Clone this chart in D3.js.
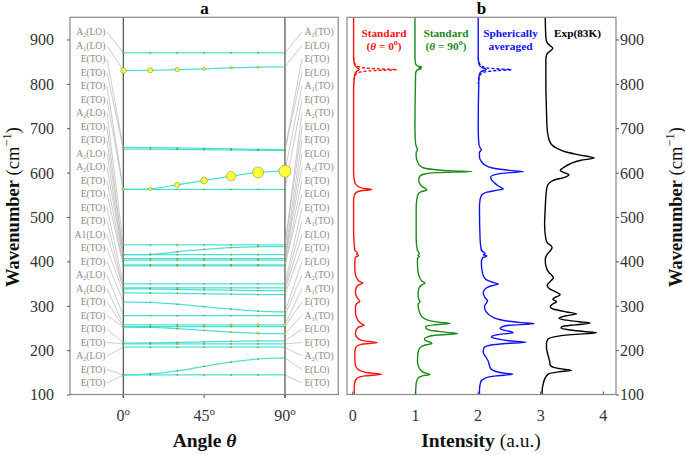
<!DOCTYPE html>
<html><head><meta charset="utf-8">
<script src="https://cdn.jsdelivr.net/npm/d3@7"></script>
<style>
body{margin:0;background:#fff}
svg{display:block}
</style>
</head><body>
<svg id="c" width="685" height="455"></svg>
<script>
// ---------- data ----------
const wavenumberTicks = [100,200,300,400,500,600,700,800,900];
const angleTicks = [0,45,90];
const intensityTicks = [0,1,2,3,4];
const angles = [0,15,30,45,60,75,90];

// frequency (cm-1) of each mode at 0,15,30,45,60,75,90 degrees
const modeFreqs = [
  [870,870,870,870,870,870,870],
  [830,830.5,832,834,836.2,837.6,838.5],
  [657,656.5,655.5,654.5,653.5,652.5,652],
  [653,652.8,652.3,651.6,651,650.3,650],
  [562,563.5,572.5,582.3,592,600.3,603.2],
  [562,562,562,562,562,562,562],
  [437,437,437,437,437,437,437],
  [415,416,421.5,427,431,433,433.5],
  [415,415,415,415,415,415,415],
  [406,406,406,406,406,406,406],
  [403,403,403,403,403,403,403],
  [392,392,392,392,392,392,392],
  [390,390,390,390,390,390,390],
  [349.5,349.5,349.5,349.5,349.5,349.5,349.5],
  [340,340,340,340,340,340,340],
  [338,337.8,337,336,335,334.3,334],
  [329,328.7,328,327,326,325.3,325],
  [309,307.5,303.5,298,292.5,288,286],
  [278,278,278,278,278,278,278],
  [257,257,257,257,257,257,257],
  [253,253,253,253,253,253,253],
  [252,251,248.5,244.5,240.5,238,237],
  [216,216.3,217.3,218.5,219.7,220.6,221],
  [214,214,214,214,214,214,214],
  [206.6,206.6,206.6,206.6,206.6,206.6,206.6],
  [144,146.5,153.5,163.5,173,180,182.6],
  [144,144,144,144,144,144,144]
];
// IR intensity (arb.) at each angle, for the active modes (index -> values)
const modeIntensityIdx = [1, 4, 19, 21];
const modeIntensity = [
  [7.3,6.3,4.8,2.6,1.4,1.0,0.6],
  [1.0,2.9,6.3,11,22,30,36],
  [0.3,0.3,0.4,0.64,1.0,1.7,1.7],
  [0.2,0.2,0.3,0.5,0.7,1.0,1.0]
];
const baseIntensity = 0.3;

const leftLabels = ["A_2(LO)","A_1(LO)","E(TO)","E(TO)","E(TO)","E(TO)","A_2(LO)","E(TO)","E(TO)","A_1(LO)","A_2(LO)","E(TO)","E(TO)","E(TO)","E(TO)","A1(LO)","E(TO)","E(TO)","A_2(LO)","A_1(LO)","E(TO)","E(TO)","E(TO)","E(TO)","A_2(LO)","E(TO)","E(TO)"];
const rightLabels = ["A_2(TO)","E(LO)","E(TO)","E(LO)","A_1(TO)","E(TO)","A_2(TO)","E(LO)","E(TO)","E(LO)","A_2(TO)","E(TO)","E(LO)","E(TO)","A_1(TO)","E(LO)","E(TO)","E(LO)","A_2(TO)","A_1(TO)","E(TO)","A_1(TO)","E(LO)","E(TO)","A_2(TO)","E(LO)","E(TO)"];

// spectra: [wavenumber, intensity]
const std0 = [[950,0.02],[860,0.02],[846,0.03],[840,0.05],[836,0.08],[833,0.11],[830,0.09],[827,0.06],[822,0.04],[812,0.03],[780,0.02],[600,0.02],[585,0.03],[575,0.05],[569,0.09],[565,0.16],[562,0.31],[559,0.14],[555,0.06],[548,0.03],[535,0.02],[470,0.02],[440,0.03],[425,0.04],[419,0.08],[416,0.07],[413,0.1],[409,0.05],[400,0.04],[385,0.04],[370,0.05],[360,0.08],[355,0.11],[351,0.17],[347,0.1],[340,0.06],[330,0.05],[320,0.07],[314,0.1],[310,0.12],[305,0.07],[297,0.05],[285,0.05],[273,0.07],[265,0.1],[260,0.14],[256,0.19],[252,0.1],[245,0.06],[237,0.05],[228,0.08],[222,0.15],[217,0.4],[213,0.14],[207,0.06],[197,0.04],[180,0.04],[166,0.05],[158,0.08],[152,0.16],[149,0.25],[145.5,0.47],[142,0.2],[137,0.08],[128,0.04],[112,0.03],[100,0.03]];
const std0Dashed = [[860,0.02],[846,0.04],[840,0.08],[836,0.2],[834,0.4],[832,0.71],[830,0.35],[827,0.14],[822,0.06],[812,0.03],[800,0.02]];
const std90 = [[950,1.0],[860,1.0],[845,1.01],[840,1.05],[838,1.11],[836,1.06],[834,1.1],[831,1.03],[822,1.01],[700,1.0],[665,1.01],[656,1.03],[651,1.04],[646,1.02],[635,1.02],[625,1.04],[617,1.07],[611,1.13],[607,1.3],[604,1.6],[602.5,1.91],[600,1.35],[597,1.15],[592,1.08],[583,1.06],[574,1.08],[568,1.12],[564,1.17],[561,1.19],[557,1.1],[551,1.05],[540,1.03],[520,1.02],[450,1.02],[425,1.04],[417,1.07],[414,1.05],[411,1.07],[407,1.04],[395,1.04],[375,1.05],[362,1.08],[356,1.11],[351,1.16],[346,1.1],[338,1.06],[325,1.05],[315,1.06],[309,1.08],[303,1.05],[292,1.06],[280,1.09],[272,1.14],[266,1.25],[263,1.38],[260,1.56],[257,1.3],[254,1.18],[251,1.17],[247,1.2],[243,1.32],[240,1.5],[237,1.68],[234,1.35],[230,1.2],[225,1.15],[221,1.18],[218,1.24],[215,1.27],[211,1.15],[205,1.08],[195,1.05],[175,1.04],[162,1.06],[155,1.09],[150,1.14],[147,1.2],[145,1.24],[142,1.12],[137,1.05],[125,1.02],[100,1.01]];
const sphAvg = [[950,2.01],[860,2.01],[846,2.02],[840,2.04],[836,2.08],[833,2.14],[831,2.12],[828,2.06],[822,2.03],[810,2.02],[700,2.01],[665,2.02],[656,2.04],[651,2.06],[646,2.03],[635,2.03],[625,2.06],[617,2.12],[611,2.22],[607,2.4],[604,2.6],[602.5,2.73],[600,2.5],[596,2.3],[590,2.21],[584,2.22],[577,2.27],[571,2.32],[566,2.38],[563,2.41],[560,2.3],[556,2.15],[550,2.07],[540,2.04],[520,2.03],[450,2.04],[425,2.06],[418,2.12],[415,2.09],[412,2.15],[408,2.08],[398,2.06],[380,2.07],[365,2.1],[357,2.16],[352,2.26],[349,2.33],[345,2.22],[338,2.12],[328,2.09],[318,2.12],[311,2.16],[306,2.14],[298,2.11],[288,2.13],[278,2.2],[270,2.32],[265,2.5],[262,2.7],[259.5,2.9],[256,2.5],[252,2.38],[249,2.36],[245,2.42],[242,2.52],[239,2.57],[236,2.38],[232,2.24],[229,2.22],[225,2.33],[221,2.5],[218,2.77],[215,2.45],[211,2.2],[205,2.1],[195,2.09],[185,2.13],[175,2.17],[165,2.19],[158,2.21],[153,2.27],[149,2.38],[145.5,2.56],[142,2.3],[137,2.12],[128,2.05],[110,2.03],[100,2.03]];
const sphAvgDashed = [[860,2.01],[846,2.03],[840,2.07],[836,2.15],[834,2.3],[832,2.54],[830,2.3],[827,2.12],[822,2.05],[812,2.02],[800,2.01]];
const expt = [[950,3.08],[905,3.09],[893,3.11],[886,3.16],[880,3.2],[875,3.17],[868,3.11],[855,3.09],[800,3.09],[740,3.1],[700,3.11],[680,3.13],[665,3.17],[655,3.26],[647,3.4],[640,3.62],[633,3.86],[628,3.65],[620,3.48],[612,3.38],[605,3.32],[600,3.38],[595,3.46],[590,3.4],[582,3.2],[572,3.12],[560,3.1],[520,3.08],[483,3.07],[450,3.09],[441,3.12],[436,3.17],[431,3.19],[424,3.16],[416,3.11],[404,3.08],[390,3.09],[375,3.14],[368,3.19],[363,3.21],[356,3.17],[346,3.11],[338,3.15],[331,3.25],[325,3.32],[319,3.24],[315,3.2],[309,3.26],[304,3.2],[298,3.16],[291,3.25],[286,3.42],[282,3.58],[277,3.4],[272,3.3],[267,3.45],[264,3.62],[261,3.8],[257,3.55],[253,3.35],[250,3.33],[246,3.45],[242,3.7],[239,3.9],[235,3.5],[230,3.22],[224,3.12],[215,3.1],[205,3.1],[197,3.11],[186,3.13],[175,3.15],[166,3.16],[160,3.25],[157,3.38],[154.5,3.5],[151,3.3],[147,3.14],[140,3.09],[125,3.05],[107,3.03],[100,3.03]];

const seriesNames = ["Standard", "Standard", "Spherically", "Exp(83K)"];
const seriesSub = ["0", "90", "averaged", null];

// ---------- drawing ----------
const FONT = '"Liberation Serif","Times New Roman",serif';
const svg = d3.select("#c");
svg.append("rect").attr("width",685).attr("height",455).attr("fill","#fff");

const y = d3.scaleLinear().domain([100,950]).range([394.5,17.3]);
const xa = d3.scaleLinear().domain([-29.7,119.7]).range([70,338.3]);
const xb = d3.scaleLinear().domain([-0.085,4.21]).range([347,616]);
const rS = d3.scaleSqrt().domain([0,36]).range([0,6]);

// ----- panel a -----
const gA = svg.append("g");
const axL = svg.append("g").attr("transform","translate(70,0)")
  .call(d3.axisLeft(y).tickValues(wavenumberTicks).tickSize(3).tickPadding(13));
axL.select(".domain").remove();
axL.attr("font-family",FONT).attr("font-size",16);
axL.selectAll("text").attr("fill","#333").attr("dy","0.34em");
axL.selectAll("line").attr("stroke","#555");

gA.selectAll("line.v").data([0,90]).join("line")
  .attr("x1",d=>xa(d)).attr("x2",d=>xa(d)).attr("y1",17.3).attr("y2",398)
  .attr("stroke","#4d4d4d").attr("stroke-width",1.2);

const modeLine = d3.line().x((d,i)=>xa(angles[i])).y(d=>y(d)).curve(d3.curveMonotoneX);
gA.selectAll("path.mode").data(modeFreqs).join("path")
  .attr("d",modeLine).attr("fill","none").attr("stroke","#3fe0d0").attr("stroke-width",1.25).attr("opacity",0.95);

const f0 = modeFreqs.map(m=>m[0]).sort((a,b)=>b-a);
const f90 = modeFreqs.map(m=>m[6]).sort((a,b)=>b-a);
const ly = d3.scalePoint().domain(d3.range(leftLabels.length)).range([32,383]);

gA.selectAll("line.cl").data(leftLabels).join("line")
  .attr("x1",107).attr("y1",(d,i)=>ly(i)).attr("x2",xa(0)).attr("y2",(d,i)=>y(f0[i]))
  .attr("stroke","#a8a8a8").attr("stroke-width",0.6);
gA.selectAll("line.cr").data(rightLabels).join("line")
  .attr("x1",302).attr("y1",(d,i)=>ly(i)).attr("x2",xa(90)).attr("y2",(d,i)=>y(f90[i]))
  .attr("stroke","#a8a8a8").attr("stroke-width",0.6);

function fillLabel(sel, str){
  const m = str.match(/^(.)_(\d)(.*)$/);
  if(m){
    sel.append("tspan").text(m[1]);
    sel.append("tspan").attr("font-size","6.5px").attr("dy","1.8").text(m[2]);
    sel.append("tspan").attr("dy","-1.8").text(m[3]);
  } else sel.text(str);
}
gA.selectAll("text.ll").data(leftLabels).join("text")
  .attr("x",105.5).attr("y",(d,i)=>ly(i)+3.2).attr("text-anchor","end")
  .attr("font-family",FONT).attr("font-size","9.6px").attr("fill","#8a8a8a")
  .each(function(d){fillLabel(d3.select(this),d);});
gA.selectAll("text.rl").data(rightLabels).join("text")
  .attr("x",304.5).attr("y",(d,i)=>ly(i)+3.2).attr("text-anchor","start")
  .attr("font-family",FONT).attr("font-size","9.6px").attr("fill","#8a8a8a")
  .each(function(d){fillLabel(d3.select(this),d);});

const circ = [];
modeFreqs.forEach((m,k)=>{
  const j = modeIntensityIdx.indexOf(k);
  m.forEach((f,i)=>circ.push({a:angles[i], f, v: j>=0 ? modeIntensity[j][i] : baseIntensity}));
});
circ.sort((a,b)=>a.v-b.v);
gA.selectAll("circle").data(circ).join("circle")
  .attr("cx",d=>xa(d.a)).attr("cy",d=>y(d.f)).attr("r",d=>rS(d.v))
  .attr("fill",d=>d.v<0.5?"#9a9a40":"#ffff3a").attr("stroke","#7a7a20").attr("stroke-width",0.5);

gA.selectAll("line.at").data(angleTicks).join("line")
  .attr("x1",d=>xa(d)).attr("x2",d=>xa(d)).attr("y1",394.5).attr("y2",398).attr("stroke","#555");
const at = gA.selectAll("text.at").data(angleTicks).join("text")
  .attr("x",d=>xa(d)).attr("y",421).attr("text-anchor","middle")
  .attr("font-family",FONT).attr("font-size","16px").attr("fill","#333");
at.append("tspan").text(d=>d);
at.append("tspan").attr("font-size","11px").attr("dy","-6").text("o");

gA.append("rect").attr("x",70).attr("y",17.3).attr("width",268.3).attr("height",377.2)
  .attr("fill","none").attr("stroke","#888").attr("stroke-width",1.2);

// ----- panel b -----
const gB = svg.append("g");
svg.append("defs").append("clipPath").attr("id","cb").append("rect")
  .attr("x",347).attr("y",17.3).attr("width",269).attr("height",377.2);

const axR = svg.append("g").attr("transform","translate(616,0)")
  .call(d3.axisRight(y).tickValues(wavenumberTicks).tickSize(3).tickPadding(1));
axR.select(".domain").remove();
axR.attr("font-family",FONT).attr("font-size",16);
axR.selectAll("text").attr("fill","#333").attr("dy","0.34em");
axR.selectAll("line").attr("stroke","#555");

const axB = svg.append("g").attr("transform","translate(0,394.5)")
  .call(d3.axisBottom(xb).tickValues(intensityTicks).tickFormat(d3.format("d")).tickSizeInner(-3).tickSizeOuter(0).tickPadding(15));
axB.select(".domain").remove();
axB.attr("font-family",FONT).attr("font-size",16);
axB.selectAll("text").attr("fill","#333");
axB.selectAll("line").attr("stroke","#555");

const specLine = d3.line().x(d=>xb(d[1])).y(d=>y(d[0])).curve(d3.curveMonotoneY);
const specs = [
  {d:std0, c:"#ff1010", dash:null},
  {d:std0Dashed, c:"#ff1010", dash:"3,2"},
  {d:std90, c:"#1a8a1a", dash:null},
  {d:sphAvg, c:"#1010ff", dash:null},
  {d:sphAvgDashed, c:"#1010ff", dash:"3,2"},
  {d:expt, c:"#000", dash:null}
];
gB.append("g").attr("clip-path","url(#cb)").selectAll("path").data(specs).join("path")
  .attr("d",d=>specLine(d.d)).attr("fill","none").attr("stroke",d=>d.c)
  .attr("stroke-width",1.4).attr("stroke-dasharray",d=>d.dash);

gB.append("rect").attr("x",347).attr("y",17.3).attr("width",269).attr("height",377.2)
  .attr("fill","none").attr("stroke","#888").attr("stroke-width",1.2);

// legend texts
const legX = [384, 446, 510.5, 577.5];
const legC = ["#ff1010","#1a8a1a","#1010ff","#000"];
seriesNames.forEach((name,i)=>{
  svg.append("text").attr("x",legX[i]).attr("y",36.5).attr("text-anchor","middle")
    .attr("font-family",FONT).attr("font-weight","bold").attr("font-size","11.3px").attr("fill",legC[i]).text(name);
  const sub = seriesSub[i];
  if(sub === null) return;
  const t = svg.append("text").attr("x",legX[i]).attr("y",49.5).attr("text-anchor","middle")
    .attr("font-family",FONT).attr("font-weight","bold").attr("font-size","11.3px").attr("fill",legC[i]);
  if(i < 2){
    t.append("tspan").text("(");
    t.append("tspan").attr("font-style","italic").text("θ");
    t.append("tspan").text(" = " + sub);
    t.append("tspan").attr("font-size","8px").attr("dy","-4.5").text("o");
    t.append("tspan").attr("dy","4.5").text(")");
  } else t.text(sub);
});

// ----- titles -----
svg.append("text").attr("x",204.5).attr("y",13.5).attr("text-anchor","middle")
  .attr("font-family",FONT).attr("font-weight","bold").attr("font-size","17px").text("a");
svg.append("text").attr("x",481.5).attr("y",13.5).attr("text-anchor","middle")
  .attr("font-family",FONT).attr("font-weight","bold").attr("font-size","17px").text("b");

function yTitle(x){
  const t = svg.append("text").attr("transform",`translate(${x},207) rotate(-90)`).attr("text-anchor","middle")
    .attr("font-family",FONT).attr("font-size","18.5px").attr("fill","#111");
  t.append("tspan").attr("font-weight","bold").text("Wavenumber");
  t.append("tspan").text(" (cm");
  t.append("tspan").attr("font-size","12.5px").attr("dy","-7.5").text("−1");
  t.append("tspan").attr("dy","7.5").text(")");
}
yTitle(18.5);
yTitle(681.5);

const xt1 = svg.append("text").attr("x",204.5).attr("y",447).attr("text-anchor","middle")
  .attr("font-family",FONT).attr("font-size","19.5px").attr("font-weight","bold").attr("fill","#111");
xt1.append("tspan").text("Angle ");
xt1.append("tspan").attr("font-style","italic").text("θ");

const xt2 = svg.append("text").attr("x",481).attr("y",447).attr("text-anchor","middle")
  .attr("font-family",FONT).attr("font-size","19.5px").attr("fill","#111");
xt2.append("tspan").attr("font-weight","bold").text("Intensity");
xt2.append("tspan").text(" (a.u.)");
</script>
</body></html>
